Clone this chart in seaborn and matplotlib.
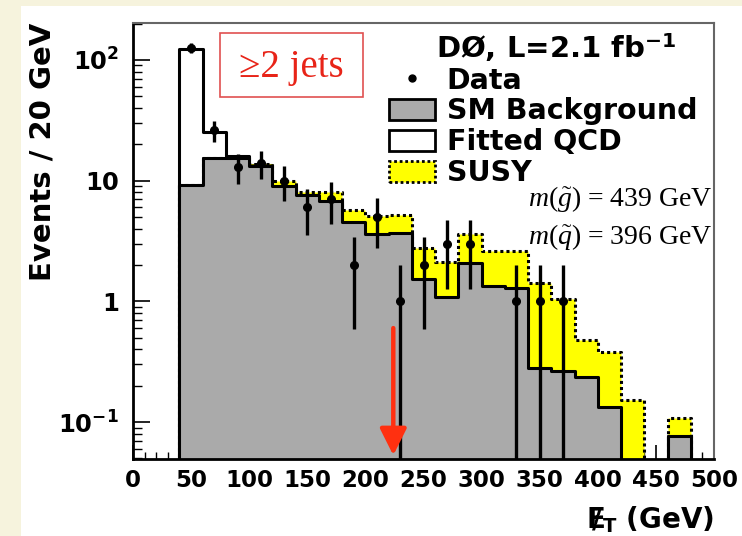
import numpy as np
import pandas as pd
import matplotlib
matplotlib.use("Agg")
import matplotlib.pyplot as plt
import seaborn as sns
from matplotlib.patches import Patch, Rectangle
from matplotlib.lines import Line2D
from matplotlib.ticker import MultipleLocator, LogLocator, FixedLocator, FixedFormatter, NullFormatter

# Missing-ET histogram, >=2 jets selection (20 GeV bins, lower edges)
bin_low = [40, 60, 80, 100, 120, 140, 160, 180, 200, 220, 240, 260,
           280, 300, 320, 340, 360, 380, 400, 420, 440, 460, 480]
BIN_WIDTH = 20

sm_background = [9.2, 15.3, 15.3, 13.3, 9.1, 7.6, 6.8, 4.5, 3.6, 3.7, 1.52, 1.08,
                 2.08, 1.35, 1.30, 0.278, 0.265, 0.237, 0.134, 0, 0, 0.077, 0]
fitted_qcd = [122, 25.4, 16.0, 13.5, 9.1, 7.6, 6.8, 4.5, 3.6, 3.7, 1.52, 1.08,
              2.08, 1.35, 1.30, 0.278, 0.265, 0.237, 0.134, 0, 0, 0.077, 0]
sm_plus_susy = [9.2, 15.3, 15.6, 13.8, 9.9, 8.1, 8.0, 5.76, 5.1, 5.2, 2.78, 2.11,
                3.63, 2.6, 2.6, 1.43, 1.05, 0.48, 0.381, 0.152, 0, 0.107, 0]
data_counts = [126, 26, 13, 14, 10, 6, 7, 2, 5, 1, 2, 3,
               3, 0, 1, 1, 1, 0, 0, 0, 0, 0, 0]

x_ticks = [0, 50, 100, 150, 200, 250, 300, 350, 400, 450, 500]
y_ticks = [0.1, 1, 10, 100]
y_tick_labels = [r"$\mathbf{10^{-1}}$", r"$\mathbf{1}$", r"$\mathbf{10}$", r"$\mathbf{10^{2}}$"]

met_cut = 224
gluino_mass = 439
squark_mass = 396
luminosity = 2.1

sns.set_theme(style="white")
plt.rcParams.update({
    "font.family": ["DejaVu Sans"],
    "font.weight": "bold",
    "text.color": "black",
    "axes.labelcolor": "black",
    "xtick.color": "black",
    "ytick.color": "black",
    "mathtext.fontset": "custom",
    "mathtext.rm": "Liberation Serif:weight=normal",
    "mathtext.it": "Liberation Serif:style=italic:weight=normal",
    "mathtext.bf": "DejaVu Sans:weight=bold",
})

W, H = 742, 536
fig = plt.figure(figsize=(W / 100, H / 100), dpi=100, facecolor="#f6f3dd")
fig.patches.append(Rectangle((21 / W, 0), 1, 1 - 6 / H, transform=fig.transFigure,
                             facecolor="white", edgecolor="none", zorder=-5))
ax = fig.add_axes([133 / W, 1 - 459 / H, 581 / W, 436 / H])
ax.set_facecolor("white")

edges = bin_low + [bin_low[-1] + BIN_WIDTH]
centers = [b + BIN_WIDTH / 2 for b in bin_low]
df = pd.DataFrame({"met": centers, "qcd": fitted_qcd, "sm": sm_background,
                   "susy": sm_plus_susy, "data": data_counts})

common = dict(data=df, x="met", bins=edges, element="step", fill=True, alpha=1, ax=ax)
sns.histplot(weights="qcd", facecolor="white", edgecolor="black", linewidth=2.2,
             zorder=1, **common)
sns.histplot(weights="susy", facecolor="#ffff00", edgecolor="black", linewidth=2.2,
             linestyle=(0, (1, 1)), zorder=2, **common)
sns.histplot(weights="sm", facecolor="#aaaaaa", edgecolor="black", linewidth=2.2,
             zorder=3, **common)

# Data points with Poisson errors
pts = df[df["data"] > 0]
ax.errorbar(pts["met"], pts["data"], yerr=np.sqrt(pts["data"]), fmt="o",
            color="black", ms=5.5, elinewidth=2.4, capsize=0, zorder=5)

ax.set_yscale("log")
ax.set_xlim(0, 500)
ax.set_ylim(0.0494, 202)

# Cut marker
ax.annotate("", xy=(met_cut, 0.053), xytext=(met_cut, 0.6),
            arrowprops=dict(arrowstyle="-|>,head_length=0.9,head_width=0.45",
                            color="#ff3010", lw=3.2, mutation_scale=18,
                            shrinkA=0, shrinkB=0), zorder=6)

# Ticks
ax.xaxis.set_major_locator(FixedLocator(x_ticks))
ax.xaxis.set_minor_locator(MultipleLocator(10))
ax.set_xticklabels([str(t) for t in x_ticks])
ax.yaxis.set_major_locator(FixedLocator(y_ticks))
ax.yaxis.set_major_formatter(FixedFormatter(y_tick_labels))
ax.yaxis.set_minor_locator(LogLocator(base=10, subs=np.arange(2, 10)))
ax.yaxis.set_minor_formatter(NullFormatter())
ax.tick_params(axis="x", which="major", direction="in", length=10, width=1.2,
               labelsize=16.5, pad=7, bottom=True, top=False)
ax.tick_params(axis="x", which="minor", direction="in", length=5, width=1.0,
               bottom=True, top=False)
ax.tick_params(axis="y", which="major", direction="in", length=12, width=1.2,
               labelsize=17.5, pad=10, left=True, right=False)
ax.tick_params(axis="y", which="minor", direction="in", length=6.5, width=1.0,
               left=True, right=False)
for lab in ax.get_xticklabels() + ax.get_yticklabels():
    lab.set_fontweight("bold")

for side in ["left", "bottom"]:
    ax.spines[side].set_color("black")
    ax.spines[side].set_linewidth(2)
for side in ["top", "right"]:
    ax.spines[side].set_color("#666666")
    ax.spines[side].set_linewidth(1.5)
for s in ax.spines.values():
    s.set_zorder(7)

ax.set_ylabel("Events / 20 GeV", fontsize=21, fontweight="bold", loc="top")
ax.yaxis.set_label_coords(-0.131, 1)
ax.set_xlabel(r"$\mathbf{E\!\!\!\!/_{T}}$ (GeV)", fontsize=20, fontweight="bold", loc="right")
ax.xaxis.set_label_coords(1.0, -0.103)

# Selection box
ax.add_patch(Rectangle((0.1497, 0.830), 0.2462, 0.147, transform=ax.transAxes,
                       fill=False, edgecolor="#e05050", linewidth=1.2, zorder=8))
ax.text(0.272, 0.897, "\u22652 jets", transform=ax.transAxes, ha="center", va="center",
        color="#e82418", fontsize=28, family="Liberation Serif", fontweight="normal",
        zorder=8)

# Legend
ax.text((556 - 133) / 581, (459 - 48) / 436, rf"DØ, L={luminosity} fb$^{{\mathbf{{-1}}}}$",
        transform=ax.transAxes, ha="center", va="center", fontsize=21,
        fontweight="bold", zorder=9)
handles = [
    Line2D([], [], marker="o", color="black", ls="none", ms=5),
    Patch(facecolor="#aaaaaa", edgecolor="black", linewidth=2),
    Patch(facecolor="white", edgecolor="black", linewidth=2),
    Patch(facecolor="#ffff00", edgecolor="black", linewidth=2, linestyle=(0, (1, 1))),
]
labels = ["Data", "SM Background", "Fitted QCD", "SUSY"]
leg = ax.legend(handles, labels, loc="upper left", bbox_to_anchor=(0.4406, 0.9),
                frameon=False, handlelength=1.6, handleheight=0.75, handletextpad=0.42,
                labelspacing=0.1, borderpad=0, borderaxespad=0,
                prop={"weight": "bold", "size": 20.5})
leg.set_zorder(9)

ax.text(0.998, 0.596, rf"$m(\tilde{{g}})$ = {gluino_mass} GeV", transform=ax.transAxes,
        ha="right", va="center", fontsize=20, family="Liberation Serif",
        fontweight="normal", zorder=9)
ax.text(0.998, 0.509, rf"$m(\tilde{{q}})$ = {squark_mass} GeV", transform=ax.transAxes,
        ha="right", va="center", fontsize=20, family="Liberation Serif",
        fontweight="normal", zorder=9)

fig.savefig("out.png", dpi=100, facecolor=fig.get_facecolor())
